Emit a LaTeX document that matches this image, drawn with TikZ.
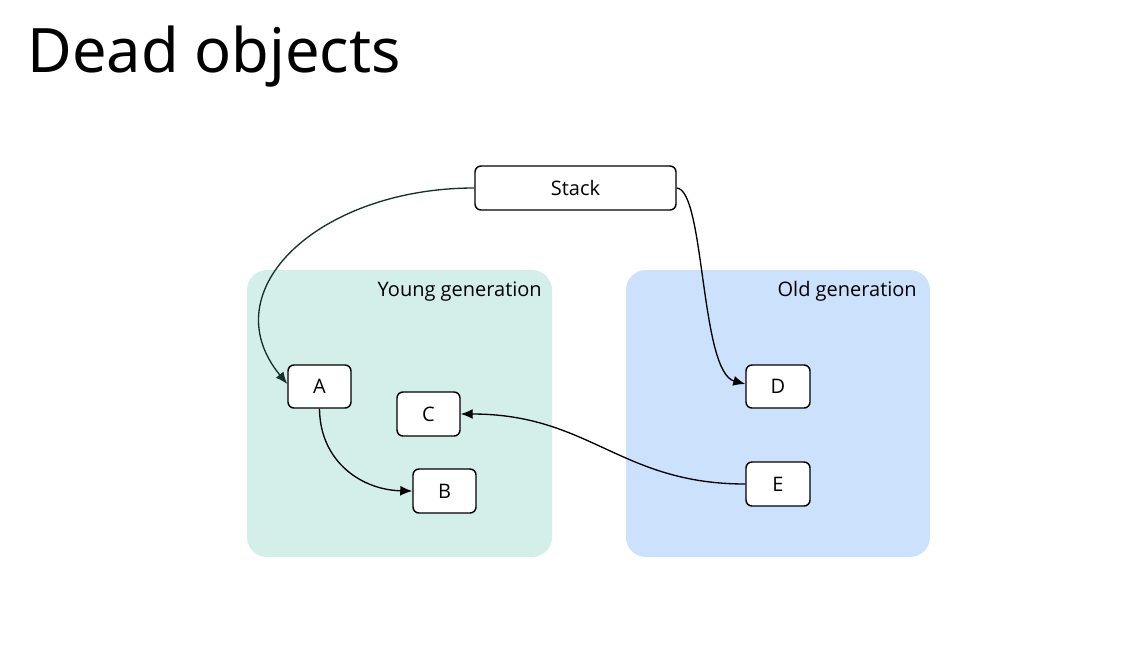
\documentclass[tikz,border=0pt]{standalone}
\usepackage{fontspec}
\setmainfont{Open Sans}
\newfontfamily\titlefont{Noto Sans}
\usetikzlibrary{arrows.meta}
\definecolor{youngfill}{RGB}{212,238,233}
\definecolor{oldfill}{RGB}{204,225,251}
\definecolor{darkgreen}{RGB}{20,50,40}
\begin{document}
\begin{tikzpicture}[x=0.75pt,y=-0.75pt,
  region/.style={rounded corners=15pt, inner sep=0pt},
  objbox/.style={draw=black, line width=1.1pt, fill=white, rounded corners=4.5pt, inner sep=0pt, font=\fontsize{15}{17}\selectfont},
  reglabel/.style={anchor=base east, inner sep=0pt, font=\fontsize{15}{17}\selectfont},
  conn/.style={line width=1pt, -{Latex[length=9pt,width=7.5pt]}}
]
\fill[white] (0,0) rectangle (1136,668);
\useasboundingbox (0,0) rectangle (1136,668);
\node[anchor=base west, inner sep=0pt, font=\titlefont\fontsize{46}{50}\selectfont] (title) at (27,72) {Dead objects};
% regions
\node[region, fill=youngfill, minimum width=228.75pt, minimum height=215.25pt] (young) at (399.5,413.5) {};
\node[region, fill=oldfill, minimum width=228pt, minimum height=215.25pt] (old) at (778,413.5) {};
\node[reglabel] (ylab) at (542,296) {Young generation};
\node[reglabel] (olab) at (917,296) {Old generation};
% boxes
\node[objbox, minimum width=150.75pt, minimum height=33pt] (stack) at (575.5,188) {Stack};
\node[objbox, minimum width=47.25pt, minimum height=32.25pt] (A) at (319.5,386.5) {A};
\node[objbox, minimum width=47.25pt, minimum height=33pt] (C) at (428.5,414) {C};
\node[objbox, minimum width=47.25pt, minimum height=33pt] (B) at (444.5,491) {B};
\node[objbox, minimum width=48pt, minimum height=32.25pt] (D) at (778,386.5) {D};
\node[objbox, minimum width=48pt, minimum height=33pt] (E) at (778,484) {E};
% connectors
\draw[conn, draw=darkgreen] (stack.west) .. controls (320,188) and (210,290) .. (A.west |- 0,384);
\draw[conn] (stack.east) .. controls (705,190) and (700,372) .. (D.west |- 0,384);
\draw[conn] (A.south) .. controls (320,462) and (362,490) .. (B.west);
\draw[conn] (E.west) .. controls (620,484) and (590,414) .. (C.east);
\end{tikzpicture}
\end{document}
